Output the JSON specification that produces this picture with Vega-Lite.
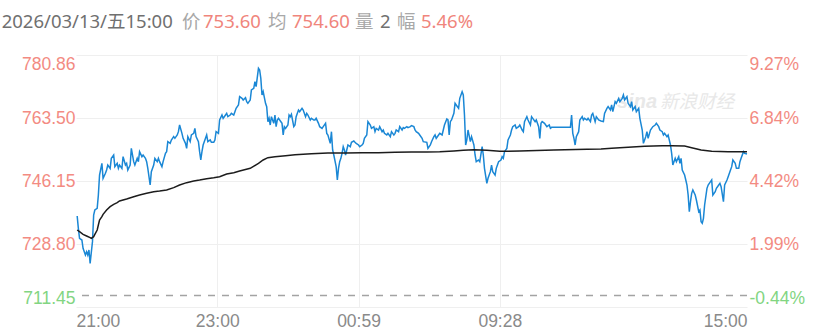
{
  "$schema": "https://vega.github.io/schema/vega-lite/v6.json",
  "width": 671,
  "height": 252,
  "autosize": {"type": "none"},
  "padding": {"left": 76, "top": 55, "right": 75, "bottom": 23},
  "background": "white",
  "config": {"view": {"stroke": null}, "font": "Liberation Sans"},
  "datasets": {
    "price": [
      {"t":1,"p":736.52},{"t":2,"p":733.12},{"t":3,"p":730.36},{"t":5,"p":729.9},{"t":6,"p":727.61},{"t":8,"p":725.77},{"t":9,"p":726.69},{"t":10,"p":725.77},{"t":11,"p":727.15},{"t":12,"p":723.48},{"t":14,"p":729.45},{"t":15,"p":736.79},{"t":16,"p":738.17},{"t":18,"p":738.63},{"t":19,"p":742.3},{"t":20,"p":747.81},{"t":22,"p":751.02},{"t":23,"p":746.89},{"t":25,"p":748.27},{"t":26,"p":749.19},{"t":27,"p":750.56},{"t":29,"p":749.64},{"t":30,"p":752.4},{"t":32,"p":753.32},{"t":33,"p":750.1},{"t":35,"p":751.02},{"t":36,"p":749.64},{"t":37,"p":750.56},{"t":39,"p":749.64},{"t":40,"p":752.86},{"t":42,"p":750.56},{"t":43,"p":751.02},{"t":44,"p":749.19},{"t":46,"p":750.56},{"t":47,"p":755.15},{"t":49,"p":751.48},{"t":50,"p":750.56},{"t":52,"p":752.4},{"t":53,"p":751.48},{"t":54,"p":754.23},{"t":56,"p":752.86},{"t":57,"p":753.32},{"t":59,"p":752.4},{"t":60,"p":751.48},{"t":61,"p":749.64},{"t":63,"p":745.05},{"t":64,"p":748.73},{"t":66,"p":750.56},{"t":67,"p":752.4},{"t":69,"p":751.48},{"t":70,"p":752.4},{"t":71,"p":751.48},{"t":73,"p":750.1},{"t":74,"p":751.48},{"t":76,"p":753.78},{"t":77,"p":754.23},{"t":78,"p":756.99},{"t":80,"p":756.53},{"t":81,"p":757.45},{"t":83,"p":758.37},{"t":84,"p":757.91},{"t":86,"p":758.83},{"t":87,"p":759.74},{"t":88,"p":761.58},{"t":90,"p":759.28},{"t":91,"p":757.91},{"t":93,"p":756.53},{"t":94,"p":755.15},{"t":95,"p":758.37},{"t":97,"p":756.99},{"t":98,"p":758.83},{"t":100,"p":759.28},{"t":101,"p":760.66},{"t":102,"p":758.37},{"t":104,"p":756.99},{"t":105,"p":754.23},{"t":106,"p":751.94},{"t":107,"p":754.23},{"t":108,"p":756.07},{"t":110,"p":757.91},{"t":111,"p":758.83},{"t":112,"p":756.99},{"t":114,"p":757.45},{"t":115,"p":756.8},{"t":117,"p":756.8},{"t":118,"p":757.45},{"t":119,"p":759.74},{"t":121,"p":759.28},{"t":122,"p":762.96},{"t":124,"p":764.33},{"t":125,"p":763.42},{"t":127,"p":764.33},{"t":128,"p":764.79},{"t":129,"p":763.87},{"t":131,"p":764.33},{"t":132,"p":764.79},{"t":134,"p":764.33},{"t":135,"p":765.25},{"t":136,"p":766.17},{"t":138,"p":767.09},{"t":139,"p":769.38},{"t":141,"p":768.92},{"t":142,"p":768.47},{"t":144,"p":769.11},{"t":145,"p":768.01},{"t":146,"p":767.55},{"t":148,"p":768.47},
      {"t":149,"p":771.22},{"t":151,"p":771.68},{"t":152,"p":773.52},{"t":153,"p":772.14},{"t":155,"p":777.19},{"t":156,"p":776.73},{"t":157,"p":774.43},{"t":158,"p":769.84},{"t":159,"p":770.76},{"t":161,"p":767.55},{"t":162,"p":766.63},{"t":163,"p":762.5},{"t":164,"p":763.42},{"t":165,"p":761.58},{"t":166,"p":763.87},{"t":168,"p":762.04},{"t":169,"p":764.33},{"t":170,"p":761.12},{"t":171,"p":762.96},{"t":172,"p":763.42},{"t":173,"p":762.96},{"t":175,"p":762.04},{"t":176,"p":758.83},{"t":177,"p":761.12},{"t":178,"p":760.66},{"t":180,"p":761.58},{"t":181,"p":764.33},{"t":182,"p":763.87},{"t":183,"p":764.52},{"t":185,"p":761.12},{"t":186,"p":761.58},{"t":187,"p":763.87},{"t":189,"p":765.71},{"t":190,"p":765.25},{"t":192,"p":766.17},{"t":193,"p":765.71},{"t":195,"p":763.87},{"t":196,"p":764.79},{"t":197,"p":764.33},{"t":199,"p":762.96},{"t":200,"p":763.42},{"t":202,"p":762.96},{"t":203,"p":762.96},{"t":204,"p":763.42},{"t":206,"p":762.04},{"t":207,"p":761.12},{"t":209,"p":760.66},{"t":210,"p":761.12},{"t":212,"p":762.04},{"t":213,"p":759.28},{"t":214,"p":758.83},{"t":216,"p":756.53},{"t":217,"p":759.74},{"t":218,"p":754.69},{"t":219,"p":753.32},{"t":221,"p":750.1},{"t":222,"p":746.43},{"t":223,"p":749.64},{"t":224,"p":751.48},{"t":225,"p":752.4},{"t":226,"p":753.78},{"t":227,"p":755.61},{"t":228,"p":754.69},{"t":229,"p":753.32},{"t":230,"p":754.69},{"t":231,"p":756.07},{"t":233,"p":755.61},{"t":234,"p":756.81},{"t":236,"p":757.17},{"t":237,"p":756.81},{"t":238,"p":756.53},{"t":240,"p":756.07},{"t":241,"p":755.61},{"t":243,"p":756.07},{"t":244,"p":756.53},{"t":245,"p":757.91},{"t":247,"p":758.83},{"t":248,"p":762.5},{"t":250,"p":761.58},{"t":251,"p":760.66},{"t":253,"p":761.12},{"t":254,"p":759.74},{"t":255,"p":760.66},{"t":257,"p":760.2},{"t":258,"p":761.12},{"t":260,"p":759.74},{"t":261,"p":760.2},{"t":262,"p":759.28},{"t":264,"p":758.83},{"t":265,"p":759.28},{"t":267,"p":758.37},{"t":268,"p":759.74},{"t":270,"p":758.83},{"t":271,"p":759.28},{"t":272,"p":760.2},{"t":274,"p":759.74},{"t":275,"p":761.12},{"t":277,"p":760.2},{"t":278,"p":760.85},{"t":279,"p":760.66},{"t":281,"p":761.12},{"t":282,"p":760.85},{"t":284,"p":761.12},{"t":285,"p":761.4},{"t":287,"p":761.12},{"t":288,"p":760.2},{"t":289,"p":759.74},{"t":291,"p":759.28},{"t":292,"p":758.83},{"t":294,"p":757.91},{"t":295,"p":756.99},
      {"t":298,"p":756.81},{"t":299,"p":755.15},{"t":301,"p":756.07},{"t":302,"p":756.99},{"t":304,"p":758.37},{"t":305,"p":758.83},{"t":306,"p":757.91},{"t":308,"p":758.83},{"t":309,"p":759.28},{"t":311,"p":758.83},{"t":312,"p":760.2},{"t":313,"p":761.58},{"t":315,"p":763.23},{"t":316,"p":762.96},{"t":317,"p":758.83},{"t":318,"p":762.5},{"t":319,"p":762.96},{"t":321,"p":764.79},{"t":322,"p":767.55},{"t":323,"p":767.09},{"t":325,"p":766.17},{"t":326,"p":768.92},{"t":328,"p":770.76},{"t":329,"p":769.84},{"t":330,"p":764.33},{"t":331,"p":756.07},{"t":332,"p":757.45},{"t":333,"p":760.2},{"t":335,"p":756.99},{"t":336,"p":758.37},{"t":338,"p":756.07},{"t":339,"p":753.32},{"t":340,"p":751.48},{"t":342,"p":751.94},{"t":343,"p":751.48},{"t":345,"p":755.61},{"t":346,"p":753.32},{"t":347,"p":749.64},{"t":349,"p":745.51},{"t":350,"p":746.89},{"t":352,"p":748.73},{"t":353,"p":750.56},{"t":354,"p":748.73},{"t":355,"p":748.27},{"t":356,"p":747.81},{"t":357,"p":749.64},{"t":358,"p":750.56},{"t":359,"p":751.48},{"t":361,"p":751.94},{"t":362,"p":752.86},{"t":363,"p":752.4},{"t":364,"p":754.23},{"t":366,"p":755.15},{"t":367,"p":757.45},{"t":369,"p":758.83},{"t":370,"p":760.2},{"t":371,"p":761.12},{"t":373,"p":761.58},{"t":374,"p":760.66},{"t":376,"p":761.12},{"t":377,"p":761.58},{"t":379,"p":760.2},{"t":380,"p":759.74},{"t":381,"p":762.5},{"t":383,"p":763.87},{"t":384,"p":762.96},{"t":386,"p":761.58},{"t":387,"p":763.87},{"t":388,"p":763.42},{"t":390,"p":762.5},{"t":391,"p":762.96},{"t":393,"p":761.12},{"t":394,"p":757.91},{"t":395,"p":762.04},{"t":396,"p":762.5},{"t":398,"p":762.04},{"t":399,"p":761.58},{"t":400,"p":761.12},{"t":402,"p":761.58},{"t":403,"p":760.66},{"t":404,"p":760.94},{"t":411,"p":760.94},{"t":420,"p":760.94},{"t":421,"p":764.33},{"t":422,"p":759.28},{"t":423,"p":757.91},{"t":424,"p":756.07},{"t":425,"p":758.37},{"t":427,"p":759.74},{"t":428,"p":762.96},{"t":430,"p":763.87},{"t":431,"p":762.96},{"t":432,"p":763.42},{"t":434,"p":762.96},{"t":435,"p":763.42},{"t":437,"p":762.5},{"t":438,"p":764.33},{"t":439,"p":764.79},{"t":441,"p":762.5},{"t":442,"p":763.87},{"t":444,"p":762.96},
      {"t":446,"p":762.68},{"t":448,"p":762.5},{"t":449,"p":764.79},{"t":451,"p":766.17},{"t":452,"p":766.63},{"t":454,"p":765.71},{"t":455,"p":767.09},{"t":456,"p":765.25},{"t":458,"p":768.01},{"t":459,"p":767.55},{"t":461,"p":768.92},{"t":462,"p":768.01},{"t":464,"p":768.92},{"t":465,"p":769.84},{"t":466,"p":768.47},{"t":468,"p":769.38},{"t":469,"p":767.55},{"t":471,"p":766.63},{"t":472,"p":768.01},{"t":473,"p":765.71},{"t":475,"p":766.63},{"t":476,"p":765.25},{"t":478,"p":766.17},{"t":479,"p":763.42},{"t":481,"p":760.2},{"t":482,"p":756.53},{"t":483,"p":757.45},{"t":484,"p":758.37},{"t":485,"p":759.74},{"t":486,"p":757.91},{"t":488,"p":760.2},{"t":489,"p":760.66},{"t":490,"p":761.12},{"t":492,"p":761.58},{"t":493,"p":762.04},{"t":495,"p":761.12},{"t":496,"p":760.2},{"t":498,"p":759.74},{"t":499,"p":758.83},{"t":500,"p":759.28},{"t":502,"p":758.37},{"t":503,"p":758.83},{"t":505,"p":756.07},{"t":506,"p":753.78},{"t":507,"p":750.56},{"t":509,"p":752.4},{"t":510,"p":751.48},{"t":512,"p":752.86},{"t":513,"p":751.02},{"t":514,"p":752.4},{"t":515,"p":749.19},{"t":517,"p":747.81},{"t":518,"p":746.43},{"t":519,"p":745.05},{"t":520,"p":742.3},{"t":521,"p":737.71},{"t":522,"p":740.46},{"t":523,"p":742.76},{"t":524,"p":743.68},{"t":526,"p":742.3},{"t":527,"p":740.92},{"t":529,"p":737.71},{"t":530,"p":738.17},{"t":531,"p":734.95},{"t":532,"p":734.5},{"t":533,"p":735.87},{"t":534,"p":739.54},{"t":536,"p":744.14},{"t":537,"p":745.05},{"t":539,"p":745.97},{"t":540,"p":746.43},{"t":541,"p":742.3},{"t":543,"p":743.22},{"t":544,"p":744.14},{"t":546,"p":745.05},{"t":547,"p":745.51},{"t":548,"p":744.59},{"t":550,"p":740.46},{"t":551,"p":745.05},{"t":553,"p":746.43},{"t":554,"p":747.35},{"t":556,"p":749.19},{"t":557,"p":750.1},{"t":558,"p":751.94},{"t":560,"p":751.02},{"t":561,"p":749.64},{"t":563,"p":749.64},{"t":564,"p":751.48},{"t":565,"p":752.4},{"t":567,"p":754.23},{"t":568,"p":753.78},{"t":570,"p":753.6}
    ],
    "avg": [
      {"t":1,"a":732.66},{"t":3,"a":732.2},{"t":6,"a":731.47},{"t":9,"a":731.01},{"t":12,"a":730.55},{"t":13,"a":730.36},{"t":15,"a":730.82},{"t":16,"a":731.47},{"t":18,"a":732.66},{"t":19,"a":734.04},{"t":20,"a":735.41},{"t":22,"a":736.33},{"t":23,"a":736.97},{"t":26,"a":738.17},{"t":29,"a":739.09},{"t":32,"a":739.73},{"t":35,"a":740.19},{"t":37,"a":740.65},{"t":43,"a":741.2},{"t":49,"a":741.84},{"t":54,"a":742.3},{"t":60,"a":742.76},{"t":66,"a":743.22},{"t":71,"a":743.4},{"t":77,"a":743.68},{"t":83,"a":744.32},{"t":88,"a":745.05},{"t":94,"a":745.7},{"t":100,"a":746.16},{"t":105,"a":746.43},{"t":111,"a":746.8},{"t":117,"a":747.07},{"t":122,"a":747.35},{"t":128,"a":748.08},{"t":134,"a":748.45},{"t":139,"a":748.91},{"t":148,"a":749.64},{"t":149,"a":749.83},{"t":155,"a":751.02},{"t":159,"a":751.94},{"t":163,"a":752.58},{"t":169,"a":752.86},{"t":178,"a":753.13},{"t":186,"a":753.41},{"t":200,"a":753.68},{"t":214,"a":753.87},{"t":229,"a":753.87},{"t":243,"a":753.96},{"t":257,"a":753.96},{"t":271,"a":754.05},{"t":285,"a":754.14},{"t":298,"a":754.14},{"t":309,"a":754.23},{"t":321,"a":754.42},{"t":329,"a":754.6},{"t":338,"a":754.79},{"t":349,"a":754.6},{"t":360,"a":754.33},{"t":377,"a":754.42},{"t":406,"a":754.69},{"t":434,"a":754.88},{"t":446,"a":754.97},{"t":455,"a":755.15},{"t":469,"a":755.43},{"t":483,"a":755.7},{"t":498,"a":755.89},{"t":506,"a":755.89},{"t":517,"a":755.8},{"t":523,"a":755.34},{"t":531,"a":754.69},{"t":540,"a":754.33},{"t":554,"a":754.23},{"t":570,"a":754.2}
    ]
  },
  "layer": [
    {
      "data": {"values": [{"pc": 714.59}]},
      "mark": {"type": "rule", "color": "#a3a3a3", "strokeDash": [7, 7], "strokeWidth": 1.5},
      "encoding": {
        "y": {"field": "pc", "type": "quantitative", "scale": {"domain": [711.45, 780.86], "nice": false, "zero": false}, "axis": null}
      }
    },
    {"data": {"values": [{}]}, "mark": {"type": "text", "x": 541, "y": 53, "align": "left", "baseline": "alphabetic", "font": "Liberation Sans", "fontSize": 20, "fontWeight": "bold", "fontStyle": "italic", "color": "#e8e8e8", "text": "sina"}},
    {"data": {"values": [{}]}, "mark": {"type": "text", "x": 584, "y": 53, "align": "left", "baseline": "alphabetic", "font": "Noto Sans CJK SC", "fontSize": 18.5, "fontStyle": "italic", "color": "#e8e8e8", "text": "新浪财经"}},
    {
      "data": {"name": "price"},
      "mark": {"type": "line", "color": "#1a87d5", "strokeWidth": 1.5},
      "encoding": {
        "x": {
          "field": "t", "type": "quantitative",
          "scale": {"domain": [0, 570], "nice": false, "zero": false},
          "axis": {
            "title": null, "values": [0, 120, 240, 360, 570],
            "labelExpr": "datum.value == 0 ? '21:00' : datum.value == 120 ? '23:00' : datum.value == 240 ? '00:59' : datum.value == 360 ? '09:28' : '15:00'",
            "labelFlush": true, "ticks": false, "domain": false, "grid": true,
            "gridColor": "#efefef",
            "gridOpacity": {"condition": {"test": "datum.value == 0 || datum.value == 570", "value": 0}, "value": 1},
            "labelColor": "#8a8a8a", "labelFont": "Liberation Sans", "labelFontSize": 17.5, "labelPadding": 5
          }
        },
        "y": {
          "field": "p", "type": "quantitative",
          "scale": {"domain": [711.45, 780.86], "nice": false, "zero": false},
          "axis": {
            "orient": "left", "title": null, "values": [711.45, 728.8, 746.15, 763.5, 780.86], "format": ".2f",
            "labelFlush": true, "ticks": false, "domain": false, "grid": true, "gridColor": "#efefef",
            "labelColor": {"condition": {"test": "datum.value < 714.59", "value": "#82d582"}, "value": "#f38b82"},
            "labelFont": "Liberation Sans", "labelFontSize": 17.5, "labelPadding": 1
          }
        }
      }
    },
    {
      "data": {"name": "avg"},
      "mark": {"type": "line", "color": "#1c1c1c", "strokeWidth": 1.5},
      "encoding": {
        "x": {
          "field": "t", "type": "quantitative",
          "scale": {"domain": [0, 570], "nice": false, "zero": false},
          "axis": {
            "title": null, "values": [0, 120, 240, 360, 570],
            "labelExpr": "datum.value == 0 ? '21:00' : datum.value == 120 ? '23:00' : datum.value == 240 ? '00:59' : datum.value == 360 ? '09:28' : '15:00'",
            "labelFlush": true, "ticks": false, "domain": false, "grid": true,
            "gridColor": "#efefef",
            "gridOpacity": {"condition": {"test": "datum.value == 0 || datum.value == 570", "value": 0}, "value": 1},
            "labelColor": "#8a8a8a", "labelFont": "Liberation Sans", "labelFontSize": 17.5, "labelPadding": 5
          }
        },
        "y": {
          "field": "a", "type": "quantitative",
          "scale": {"domain": [711.45, 780.86], "nice": false, "zero": false},
          "axis": {
            "orient": "right", "title": null, "values": [711.45, 728.8, 746.15, 763.5, 780.86],
            "labelExpr": "(datum.value < 714.59 ? '-' : '') + format(abs(datum.value / 714.59 - 1) * 100, '.2f') + '%'",
            "labelFlush": true, "ticks": false, "domain": false, "grid": false,
            "labelColor": {"condition": {"test": "datum.value < 714.59", "value": "#82d582"}, "value": "#f38b82"},
            "labelFont": "Liberation Sans", "labelFontSize": 17.5, "labelPadding": 2
          }
        }
      }
    },
    {"data": {"values": [{}]}, "mark": {"type": "text", "x": -74.3, "y": -27, "align": "left", "baseline": "alphabetic", "font": "Noto Sans, Noto Sans CJK SC", "fontSize": 18.5, "color": "#707070", "text": "2026/03/13/五15:00"}},
    {"data": {"values": [{}]}, "mark": {"type": "text", "x": 106, "y": -27, "align": "left", "baseline": "alphabetic", "font": "Noto Sans CJK SC", "fontSize": 18.5, "color": "#a8a8a8", "text": "价"}},
    {"data": {"values": [{}]}, "mark": {"type": "text", "x": 127, "y": -27, "align": "left", "baseline": "alphabetic", "font": "Noto Sans", "fontSize": 18.5, "color": "#f0857c", "text": "753.60"}},
    {"data": {"values": [{}]}, "mark": {"type": "text", "x": 192, "y": -27, "align": "left", "baseline": "alphabetic", "font": "Noto Sans CJK SC", "fontSize": 18.5, "color": "#a8a8a8", "text": "均"}},
    {"data": {"values": [{}]}, "mark": {"type": "text", "x": 216, "y": -27, "align": "left", "baseline": "alphabetic", "font": "Noto Sans", "fontSize": 18.5, "color": "#f0857c", "text": "754.60"}},
    {"data": {"values": [{}]}, "mark": {"type": "text", "x": 279, "y": -27, "align": "left", "baseline": "alphabetic", "font": "Noto Sans CJK SC", "fontSize": 18.5, "color": "#a8a8a8", "text": "量"}},
    {"data": {"values": [{}]}, "mark": {"type": "text", "x": 304, "y": -27, "align": "left", "baseline": "alphabetic", "font": "Noto Sans", "fontSize": 18.5, "color": "#707070", "text": "2"}},
    {"data": {"values": [{}]}, "mark": {"type": "text", "x": 321, "y": -27, "align": "left", "baseline": "alphabetic", "font": "Noto Sans CJK SC", "fontSize": 18.5, "color": "#a8a8a8", "text": "幅"}},
    {"data": {"values": [{}]}, "mark": {"type": "text", "x": 345, "y": -27, "align": "left", "baseline": "alphabetic", "font": "Noto Sans", "fontSize": 18.5, "color": "#f0857c", "text": "5.46%"}}
  ],
  "resolve": {"scale": {"y": "independent"}, "axis": {"y": "independent"}}
}
